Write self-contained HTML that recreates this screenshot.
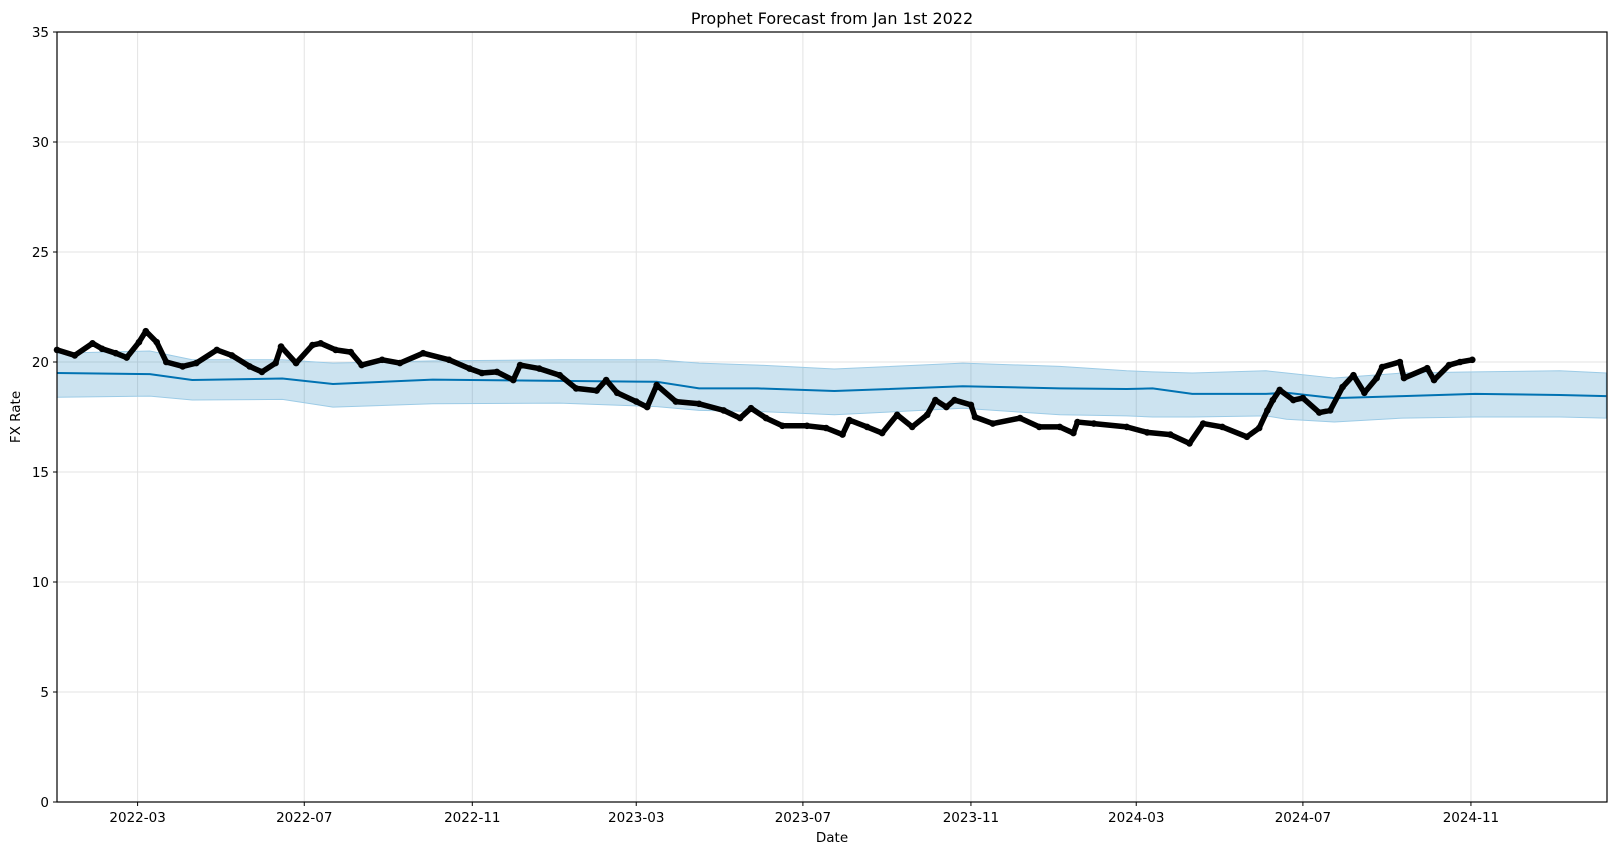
<!DOCTYPE html>
<html><head><meta charset="utf-8"><style>
html,body{margin:0;padding:0;background:#fff;}
svg{display:block;font-family:"DejaVu Sans","Liberation Sans",sans-serif;}
</style></head><body>
<svg id="chart" width="1616" height="855" viewBox="0 0 1616 855" xmlns="http://www.w3.org/2000/svg">
<rect width="1616" height="855" fill="#fff"/>
<g id="grid"></g>
<g id="band"></g>
<g id="fline"></g>
<g id="actual"></g>
<rect x="57" y="32" width="1550" height="770" fill="none" stroke="#000" stroke-width="1.2"/>
<g id="axes"></g>
<text x="832" y="24" text-anchor="middle" font-size="16" fill="#000">Prophet Forecast from Jan 1st 2022</text>
<text x="832" y="842" text-anchor="middle" font-size="13.5" fill="#000">Date</text>
<text x="20" y="417" text-anchor="middle" font-size="13.5" fill="#000" transform="rotate(-90 20 417)">FX Rate</text>
</svg>
<script>
// days since 2022-01-01
const actualDays = [0,13,26,33,43,51,60,65,73,80,92,102,117,128,141,150,160,164,175,187,193,204,215,223,238,251,268,287,302,311,322,334,339,353,368,380,395,402,410,424,432,439,453,470,488,500,508,519,531,549,563,575,580,593,604,615,626,637,643,651,657,669,672,685,705,719,734,744,747,759,783,798,815,829,839,853,871,880,886,890,895,905,912,924,932,941,949,957,966,970,983,986,1003,1008,1019,1027,1036];
const actualValues = [20.55,20.3,20.85,20.6,20.4,20.2,20.9,21.4,20.9,20.0,19.8,19.95,20.55,20.3,19.8,19.55,19.95,20.7,19.95,20.77,20.85,20.55,20.45,19.86,20.1,19.95,20.4,20.1,19.7,19.5,19.55,19.18,19.86,19.7,19.4,18.8,18.7,19.18,18.6,18.2,17.95,18.95,18.2,18.1,17.8,17.45,17.9,17.45,17.1,17.1,17.0,16.7,17.36,17.05,16.77,17.6,17.05,17.6,18.27,17.95,18.27,18.05,17.5,17.2,17.45,17.05,17.05,16.77,17.27,17.2,17.05,16.8,16.7,16.3,17.2,17.05,16.6,17.0,17.8,18.27,18.73,18.27,18.36,17.7,17.8,18.86,19.4,18.6,19.27,19.77,20.0,19.27,19.72,19.18,19.86,20.0,20.1];
const fcDays = [0,68,99,165,202,275,368,439,470,513,569,663,734,783,802,831,885,900,935,985,1038,1100,1134];
const yhat =   [19.5,19.45,19.18,19.25,19.0,19.2,19.14,19.1,18.8,18.8,18.68,18.9,18.8,18.77,18.8,18.55,18.55,18.6,18.36,18.45,18.55,18.5,18.45];
const yUpper = [20.4,20.5,20.1,20.1,19.95,20.05,20.1,20.1,19.95,19.86,19.68,19.95,19.8,19.6,19.55,19.5,19.6,19.5,19.27,19.5,19.55,19.6,19.5];
const yLower = [18.4,18.45,18.27,18.3,17.95,18.1,18.13,17.97,17.8,17.75,17.6,17.9,17.6,17.55,17.5,17.5,17.55,17.4,17.27,17.45,17.5,17.5,17.45];
const yTicks = [0,5,10,15,20,25,30,35];
const xTickLabels = ["2022-03","2022-07","2022-11","2023-03","2023-07","2023-11","2024-03","2024-07","2024-11"];

const NS="http://www.w3.org/2000/svg";
const X0=57,X1=1607,Y0=802,Y1=32, DMAX=1134.6, VMAX=35;
function xs(d){return X0+(d/DMAX)*(X1-X0);}
function ys(v){return Y0-(v/VMAX)*(Y0-Y1);}
function mk(tag,attrs,parent){const e=document.createElementNS(NS,tag);for(const k in attrs)e.setAttribute(k,attrs[k]);parent.appendChild(e);return e;}
const grid=document.getElementById('grid'),axes=document.getElementById('axes');
const base=Date.UTC(2022,0,1);
yTicks.forEach(v=>{
  const y=ys(v);
  const g=mk('line',{x1:X0,x2:X1,y1:y,y2:y,stroke:'#e3e3e3','stroke-width':1},grid);
  
  
  const t=mk('line',{x1:X0-4,x2:X0,y1:y,y2:y,stroke:'#000','stroke-width':1},axes);
  
  
  const l=mk('text',{x:X0-8,y:y+5,'text-anchor':'end','font-size':13.5,fill:'#000'},axes);
  l.textContent=v;
  
  
});
xTickLabels.forEach(s=>{
  const [yr,mo]=s.split('-').map(Number);
  const d=(Date.UTC(yr,mo-1,1)-base)/86400000;
  const x=xs(d);
  const g=mk('line',{x1:x,x2:x,y1:Y1,y2:Y0,stroke:'#e3e3e3','stroke-width':1},grid);
  
  
  const t=mk('line',{x1:x,x2:x,y1:Y0,y2:Y0+4,stroke:'#000','stroke-width':1},axes);
  
  
  const l=mk('text',{x:x,y:Y0+20,'text-anchor':'middle','font-size':13.5,fill:'#000'},axes);
  l.textContent=s;
  
  
});
let pts=fcDays.map((d,i)=>xs(d)+','+ys(yUpper[i]));
for(let i=fcDays.length-1;i>=0;i--)pts.push(xs(fcDays[i])+','+ys(yLower[i]));
const band=mk('polygon',{points:pts.join(' '),fill:'#0072B2','fill-opacity':0.2,stroke:'#9ccbe6','stroke-width':1},document.getElementById('band'));


const fl=mk('polyline',{points:fcDays.map((d,i)=>xs(d)+','+ys(yhat[i])).join(' '),fill:'none',stroke:'#0072B2','stroke-width':2},document.getElementById('fline'));


const act=document.getElementById('actual');
const al=mk('polyline',{points:actualDays.map((d,i)=>xs(d)+','+ys(actualValues[i])).join(' '),fill:'none',stroke:'#000','stroke-width':5.5,'stroke-linejoin':'round'},act);


actualDays.forEach((d,i)=>{
  const c=mk('circle',{cx:xs(d),cy:ys(actualValues[i]),r:3.3,fill:'#000'},act);
  
  
});
</script>
</body></html>
